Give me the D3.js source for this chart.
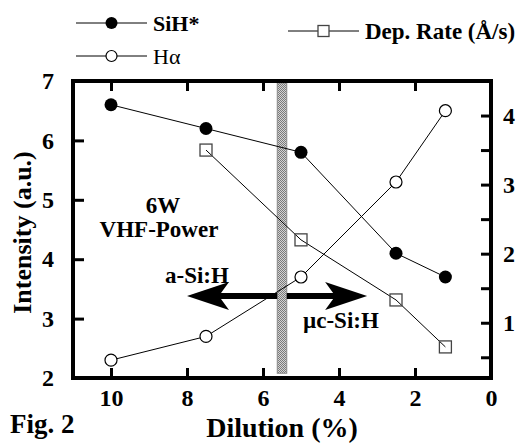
<!DOCTYPE html>
<html>
<head>
<meta charset="utf-8">
<script src="https://cdn.jsdelivr.net/npm/d3@7"></script>
<style>
  body { margin: 0; background: #fff; }
  svg text { fill: #000; }
  .axis line { stroke: #000; stroke-width: 3px; }
  .axis text { font-size: 24px; font-weight: bold; }
</style>
</head>
<body>
<svg id="chart" width="532" height="443"></svg>
<script>
// dilution (%) for each measured point
const dilution = [10, 7.5, 5, 2.5, 1.2];
// left axis series (Intensity, a.u.)
const sihStar = [6.6, 6.2, 5.8, 4.1, 3.7];
const hAlpha = [2.3, 2.7, 3.7, 5.3, 6.5];
// right axis series (deposition rate, Å/s)
const depDilution = [7.5, 5, 2.5, 1.2];
const depRate = [3.5, 2.2, 1.33, 0.65];

const xTicks = [10, 8, 6, 4, 2, 0];
const yTicks = [2, 3, 4, 5, 6, 7];
const y2Ticks = [0.5, 1, 1.5, 2, 2.5, 3, 3.5, 4];

// transition band between a-Si:H and µc-Si:H
const band = {center: 5.5, width: 0.25};
const arrowY = 3.38;
const arrowLeftTip = 8.0, arrowRightTip = 3.26;

const serif = '"Liberation Serif", Tinos, "Times New Roman", Times, serif';
const svg = d3.select('#chart').attr('font-family', serif);
const m = {left: 73, right: 491, top: 81, bottom: 378};

const x = d3.scaleLinear().domain([11, 0]).range([m.left, m.right]);
const y = d3.scaleLinear().domain([2, 7]).range([m.bottom, m.top]);
const y2 = d3.scaleLinear().domain([0.2, 4.5]).range([m.bottom, m.top]);

// stipple pattern for the band
const pat = svg.append('defs').append('pattern')
  .attr('id', 'stipple').attr('width', 2).attr('height', 2)
  .attr('patternUnits', 'userSpaceOnUse');
pat.append('rect').attr('width', 2).attr('height', 2).attr('fill', '#d4d4d4');
pat.append('rect').attr('width', 1).attr('height', 1).attr('fill', '#7a7a7a');
pat.append('rect').attr('x', 1).attr('y', 1).attr('width', 1).attr('height', 1).attr('fill', '#7a7a7a');

svg.append('rect')
  .attr('x', x(band.center + band.width / 2))
  .attr('width', x(band.center - band.width / 2) - x(band.center + band.width / 2))
  .attr('y', m.top + 2)
  .attr('height', y(2.08) - m.top - 2)
  .attr('fill', 'url(#stipple)')
  .attr('stroke', '#8a8a8a')
  .attr('stroke-width', 1);

// arrows
const bandL = x(band.center + band.width / 2), bandR = x(band.center - band.width / 2);
const ay = y(arrowY);
const lt = x(arrowLeftTip), rt = x(arrowRightTip);
svg.append('path')
  .attr('d', `M${lt},${ay} L${lt + 42},${ay - 14} L${lt + 34},${ay - 3} L${bandL},${ay - 3} L${bandL},${ay + 3} L${lt + 34},${ay + 3} L${lt + 42},${ay + 14} Z`)
  .attr('fill', '#000');
svg.append('path')
  .attr('d', `M${rt},${ay} L${rt - 42},${ay - 14} L${rt - 34},${ay - 3} L${bandR},${ay - 3} L${bandR},${ay + 3} L${rt - 34},${ay + 3} L${rt - 42},${ay + 14} Z`)
  .attr('fill', '#000');

// axes
function styleAxis(g) {
  g.attr('font-family', serif);
  g.select('.domain').remove();
}
svg.append('g').attr('class', 'axis')
  .attr('transform', `translate(0,${m.bottom})`)
  .call(d3.axisBottom(x).tickValues(xTicks).tickSize(-10).tickPadding(11).tickFormat(d3.format('d')))
  .call(styleAxis);
svg.append('g').attr('class', 'axis')
  .attr('transform', `translate(0,${m.top})`)
  .call(d3.axisTop(x).tickValues(xTicks.slice(0, 5)).tickSize(-10).tickFormat(''))
  .call(styleAxis);
svg.append('g').attr('class', 'axis')
  .attr('transform', `translate(${m.left},0)`)
  .call(d3.axisLeft(y).tickValues(yTicks).tickSize(-11).tickPadding(19).tickFormat(d3.format('d')))
  .call(styleAxis);
svg.append('g').attr('class', 'axis')
  .attr('transform', `translate(${m.right},0)`)
  .call(d3.axisRight(y2).tickValues(y2Ticks).tickSize(-10).tickPadding(12)
    .tickFormat(d => Number.isInteger(d) ? d : ''))
  .call(styleAxis);

// frame
svg.append('rect')
  .attr('x', m.left).attr('y', m.top)
  .attr('width', m.right - m.left).attr('height', m.bottom - m.top)
  .attr('fill', 'none').attr('stroke', '#000').attr('stroke-width', 4);

// series
const line = d3.line();
function drawLine(xs, ys, ys2) {
  svg.append('path')
    .attr('d', line(xs.map((d, i) => [x(d), ys2(ys[i])])))
    .attr('fill', 'none').attr('stroke', '#000').attr('stroke-width', 1);
}
drawLine(dilution, sihStar, y);
drawLine(dilution, hAlpha, y);
drawLine(depDilution, depRate, y2);

svg.selectAll('.sih').data(dilution).enter().append('circle')
  .attr('cx', d => x(d)).attr('cy', (d, i) => y(sihStar[i])).attr('r', 6.5)
  .attr('fill', '#000');
svg.selectAll('.ha').data(dilution).enter().append('circle')
  .attr('cx', d => x(d)).attr('cy', (d, i) => y(hAlpha[i])).attr('r', 6)
  .attr('fill', '#fff').attr('stroke', '#000').attr('stroke-width', 1.2);
svg.selectAll('.dep').data(depDilution).enter().append('rect')
  .attr('x', d => x(d) - 6).attr('y', (d, i) => y2(depRate[i]) - 6)
  .attr('width', 12).attr('height', 12)
  .attr('fill', 'none').attr('stroke', '#444').attr('stroke-width', 1.3);

// axis titles
svg.append('text')
  .attr('transform', `translate(31,${(m.top + m.bottom) / 2 + 3}) rotate(-90)`)
  .attr('text-anchor', 'middle').attr('font-size', 26).attr('font-weight', 'bold')
  .text('Intensity (a.u.)');
svg.append('text')
  .attr('x', 282).attr('y', 437)
  .attr('text-anchor', 'middle').attr('font-size', 28).attr('font-weight', 'bold')
  .text('Dilution (%)');
svg.append('text')
  .attr('x', 10).attr('y', 433)
  .attr('font-size', 27).attr('font-weight', 'bold')
  .text('Fig. 2');

// annotations
svg.append('text').attr('x', 163).attr('y', 213).attr('text-anchor', 'middle')
  .attr('font-size', 23).attr('font-weight', 'bold').text('6W');
svg.append('text').attr('x', 159).attr('y', 237).attr('text-anchor', 'middle')
  .attr('font-size', 23).attr('font-weight', 'bold').text('VHF-Power');
svg.append('text').attr('x', 165).attr('y', 283)
  .attr('font-size', 23).attr('font-weight', 'bold').text('a-Si:H');
svg.append('text').attr('x', 303).attr('y', 328)
  .attr('font-size', 23).attr('font-weight', 'bold').text('µc-Si:H');

// legend
const legend = [
  {label: 'SiH*', x1: 76, x2: 147, y: 23, bold: true, type: 'filled', size: 22},
  {label: 'Hα', x1: 76, x2: 147, y: 56, bold: false, type: 'open', size: 22},
  {label: 'Dep. Rate (Å/s)', x1: 288, x2: 359, y: 31, bold: true, type: 'square', size: 23}
];
legend.forEach(l => {
  const g = svg.append('g');
  g.append('line').attr('x1', l.x1).attr('x2', l.x2).attr('y1', l.y).attr('y2', l.y)
    .attr('stroke', '#000').attr('stroke-width', 1);
  const cx = (l.x1 + l.x2) / 2;
  if (l.type === 'filled') g.append('circle').attr('cx', cx).attr('cy', l.y).attr('r', 6).attr('fill', '#000');
  if (l.type === 'open') g.append('circle').attr('cx', cx).attr('cy', l.y).attr('r', 5.5)
    .attr('fill', '#fff').attr('stroke', '#000').attr('stroke-width', 1.2);
  if (l.type === 'square') g.append('rect').attr('x', cx - 5.5).attr('y', l.y - 5.5)
    .attr('width', 11).attr('height', 11).attr('fill', '#fff').attr('stroke', '#444').attr('stroke-width', 1.3);
  g.append('text').attr('x', l.x2 + 6).attr('y', l.y + 7.5)
    .attr('font-size', l.size).attr('font-weight', l.bold ? 'bold' : 'normal').text(l.label);
});
</script>
</body>
</html>
